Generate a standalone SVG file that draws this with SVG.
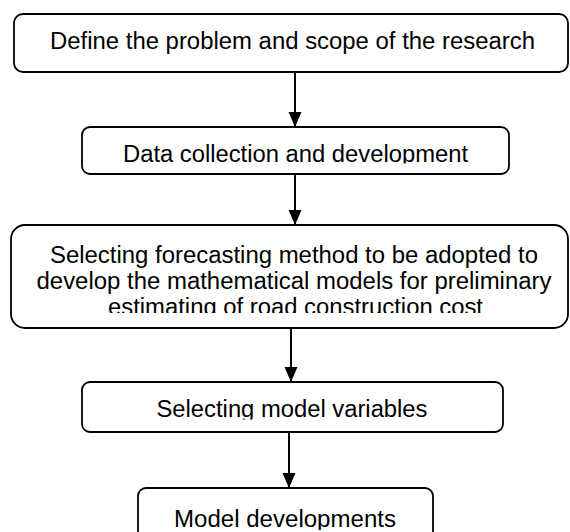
<svg xmlns="http://www.w3.org/2000/svg" width="570" height="532" viewBox="0 0 570 532">
<style>
.box{fill:#fff;stroke:#000;stroke-width:1.8}
.lbl{font-family:"Liberation Sans",Arial,sans-serif;font-size:23px;fill:#000;text-anchor:middle}
.conn{stroke:#000;stroke-width:2;fill:none;marker-end:url(#ah)}
</style>
<defs>
<marker id="ah" markerUnits="userSpaceOnUse" markerWidth="16" markerHeight="14" refX="15" refY="6.5" orient="auto">
<path d="M0,0 L15,6.5 L0,13 z" fill="#000"/>
</marker>
<clipPath id="c2"><rect x="0" y="120" width="570" height="43.5"/></clipPath>
<clipPath id="c3"><rect x="0" y="220" width="570" height="93"/></clipPath>
<clipPath id="c4"><rect x="0" y="375" width="570" height="44.5"/></clipPath>
<clipPath id="c5"><rect x="0" y="480" width="570" height="50"/></clipPath>
</defs>
<rect width="570" height="532" fill="#fff"/>
<g id="connectors">
<line class="conn" x1="295" y1="72" x2="295" y2="127"/>
<line class="conn" x1="295" y1="174" x2="295" y2="225"/>
<line class="conn" x1="291" y1="328" x2="291" y2="382"/>
<line class="conn" x1="289" y1="432" x2="289" y2="488"/>
</g>
<g id="n1">
<rect class="box" x="14" y="14" width="554" height="58" rx="9"/>
<text class="lbl" x="292.5" y="48.5" textLength="485" lengthAdjust="spacingAndGlyphs">Define the problem and scope of the research</text>
</g>
<g id="n2">
<rect class="box" x="82" y="127" width="427" height="47" rx="8"/>
<text class="lbl" x="295.5" y="161.7" textLength="345" lengthAdjust="spacingAndGlyphs" clip-path="url(#c2)">Data collection and development</text>
</g>
<g id="n3">
<rect class="box" x="11" y="225" width="557" height="103" rx="14"/>
<g clip-path="url(#c3)">
<text class="lbl" x="294" y="263" textLength="488" lengthAdjust="spacingAndGlyphs">Selecting forecasting method to be adopted to</text>
<text class="lbl" x="294" y="289" textLength="515" lengthAdjust="spacingAndGlyphs">develop the mathematical models for preliminary</text>
<text class="lbl" x="295.5" y="315" textLength="375" lengthAdjust="spacingAndGlyphs">estimating of road construction cost</text>
</g>
</g>
<g id="n4">
<rect class="box" x="82" y="382" width="421" height="50" rx="8"/>
<text class="lbl" x="292" y="416.8" textLength="271" lengthAdjust="spacingAndGlyphs" clip-path="url(#c4)">Selecting model variables</text>
</g>
<g id="n5">
<rect class="box" x="138" y="488" width="295" height="60" rx="8"/>
<text class="lbl" x="285" y="527" textLength="222" lengthAdjust="spacingAndGlyphs" clip-path="url(#c5)">Model developments</text>
</g>
</svg>
